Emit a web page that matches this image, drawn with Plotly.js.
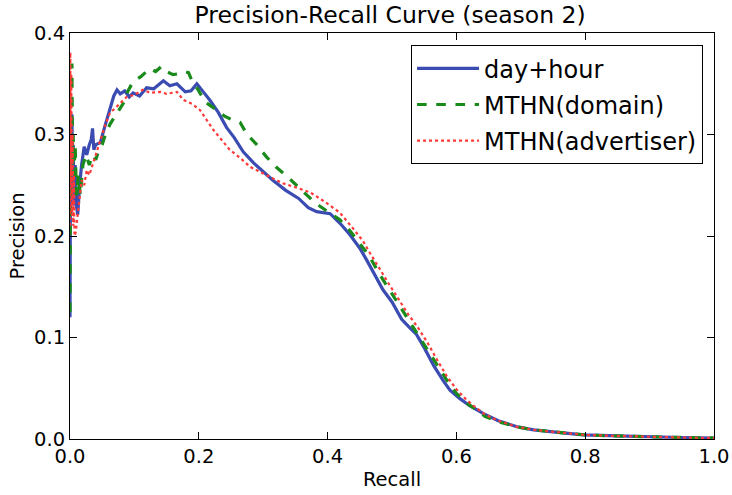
<!DOCTYPE html>
<html><head><meta charset="utf-8">
<script src="https://cdn.plot.ly/plotly-3.0.1.min.js"></script>
<style>body{margin:0;background:#fff}#chart{width:732px;height:495px}</style>
</head><body><div id="chart"></div>
<script>
const seriesNames = ["day+hour", "MTHN(domain)", "MTHN(advertiser)"];

const dayHourRecall = [0,0.001,0.002,0.003,0.004,0.005,0.006,0.008,0.010,0.012,0.015,0.018,0.022,0.026,0.030,0.033,0.035,0.037,0.040,0.047,0.055,0.062,0.068,0.073,0.078,0.085,0.092,0.098,0.108,0.119,0.130,0.145,0.155,0.166,0.179,0.188,0.197,0.207,0.217,0.230,0.243,0.255,0.269,0.285,0.300,0.315,0.335,0.355,0.370,0.383,0.404,0.420,0.435,0.450,0.461,0.475,0.486,0.500,0.515,0.527,0.538,0.550,0.565,0.580,0.590,0.605,0.620,0.642,0.665,0.694,0.72,0.75,0.797,0.85,0.90,0.95,1.0];
const dayHourPrecision = [0.12,0.30,0.24,0.32,0.25,0.29,0.23,0.27,0.23,0.221,0.25,0.27,0.288,0.28,0.29,0.295,0.306,0.285,0.29,0.292,0.31,0.325,0.338,0.344,0.340,0.343,0.337,0.341,0.338,0.346,0.345,0.353,0.348,0.350,0.342,0.343,0.350,0.342,0.334,0.322,0.307,0.297,0.283,0.272,0.263,0.255,0.245,0.237,0.228,0.224,0.222,0.212,0.201,0.188,0.176,0.160,0.147,0.135,0.118,0.110,0.103,0.090,0.072,0.057,0.048,0.040,0.033,0.025,0.018,0.012,0.009,0.007,0.004,0.003,0.002,0.0015,0.001];

const domainRecall = [0,0.001,0.002,0.003,0.004,0.005,0.006,0.008,0.010,0.013,0.016,0.020,0.025,0.030,0.035,0.040,0.045,0.050,0.055,0.062,0.070,0.077,0.083,0.090,0.098,0.110,0.124,0.133,0.142,0.150,0.160,0.170,0.178,0.184,0.190,0.199,0.210,0.228,0.240,0.253,0.264,0.275,0.290,0.305,0.320,0.340,0.357,0.380,0.400,0.419,0.435,0.450,0.465,0.480,0.495,0.510,0.525,0.540,0.555,0.570,0.585,0.600,0.615,0.630,0.645,0.665,0.694,0.72,0.75,0.80,0.85,0.90,0.95,1.0];
const domainPrecision = [0.125,0.31,0.26,0.37,0.27,0.30,0.26,0.29,0.24,0.26,0.24,0.27,0.28,0.27,0.28,0.275,0.285,0.29,0.30,0.31,0.318,0.325,0.331,0.343,0.352,0.357,0.365,0.362,0.367,0.362,0.359,0.360,0.362,0.361,0.352,0.344,0.332,0.324,0.318,0.314,0.312,0.300,0.290,0.278,0.268,0.257,0.247,0.233,0.224,0.216,0.205,0.193,0.180,0.163,0.148,0.133,0.118,0.103,0.088,0.072,0.058,0.045,0.036,0.029,0.022,0.017,0.012,0.009,0.007,0.004,0.003,0.002,0.0015,0.001];

const advertiserRecall = [0,0.0005,0.001,0.002,0.003,0.004,0.005,0.006,0.007,0.009,0.012,0.015,0.018,0.022,0.026,0.030,0.035,0.040,0.045,0.050,0.055,0.062,0.070,0.080,0.088,0.100,0.113,0.125,0.140,0.150,0.166,0.176,0.190,0.202,0.212,0.222,0.235,0.248,0.264,0.280,0.305,0.330,0.350,0.373,0.395,0.419,0.440,0.455,0.466,0.480,0.495,0.510,0.525,0.540,0.555,0.570,0.585,0.600,0.615,0.630,0.645,0.665,0.694,0.72,0.75,0.80,0.85,0.90,0.95,1.0];
const advertiserPrecision = [0.21,0.381,0.25,0.36,0.22,0.30,0.21,0.26,0.20,0.204,0.22,0.24,0.255,0.25,0.265,0.26,0.27,0.28,0.29,0.30,0.31,0.321,0.326,0.332,0.337,0.339,0.344,0.341,0.342,0.340,0.342,0.334,0.330,0.324,0.315,0.305,0.295,0.285,0.277,0.268,0.260,0.252,0.248,0.243,0.234,0.223,0.207,0.195,0.183,0.168,0.153,0.138,0.123,0.110,0.095,0.078,0.062,0.049,0.039,0.031,0.024,0.018,0.012,0.009,0.007,0.004,0.003,0.002,0.0015,0.001];

const xTickVals = [0, 0.2, 0.4, 0.6, 0.8, 1.0];
const xTickText = ["0.0", "0.2", "0.4", "0.6", "0.8", "1.0"];
const yTickVals = [0, 0.1, 0.2, 0.3, 0.4];
const yTickText = ["0.0", "0.1", "0.2", "0.3", "0.4"];

const FONT = "DejaVu Sans, sans-serif";
const traces = [
  {x: dayHourRecall, y: dayHourPrecision, name: seriesNames[0], mode: "lines", legendgroup: "a",
   line: {color: "#3a4cb2", width: 3.2, dash: "solid"}},
  {x: domainRecall, y: domainPrecision, name: seriesNames[1], mode: "lines", legendgroup: "b",
   line: {color: "#1a8a1a", width: 3.2, dash: "dash"}},
  {x: advertiserRecall, y: advertiserPrecision, name: seriesNames[2], mode: "lines", legendgroup: "c",
   line: {color: "#ff3838", width: 2.2, dash: "dot"}}
];
const axisCommon = {
  showline: true, linecolor: "#000", linewidth: 1, mirror: "allticks",
  ticks: "inside", ticklen: 7, tickcolor: "#000", showgrid: false, zeroline: false,
  tickfont: {family: FONT, size: 19.5, color: "#000"}
};
const layout = {
  width: 732, height: 495,
  margin: {l: 70, r: 18, t: 33, b: 56},
  paper_bgcolor: "#fff", plot_bgcolor: "#fff",
  font: {family: FONT, color: "#000"},
  title: {text: "Precision-Recall Curve (season 2)", font: {family: FONT, size: 23.5, color: "#000"},
          x: 0.533, xanchor: "center", y: 0.97, yanchor: "middle"},
  xaxis: Object.assign({}, axisCommon, {range: [0, 1], tickvals: xTickVals, ticktext: xTickText,
          title: {text: "Recall", font: {family: FONT, size: 19.5}, standoff: 4}}),
  yaxis: Object.assign({}, axisCommon, {range: [0, 0.4], tickvals: yTickVals, ticktext: yTickText,
          title: {text: "Precision", font: {family: FONT, size: 19.5}, standoff: 4}}),
  legend: {x: 0.983, xanchor: "right", y: 0.97, yanchor: "top", bgcolor: "#fff",
           bordercolor: "#000", borderwidth: 1, font: {family: FONT, size: 24, color: "#000"},
           itemwidth: 62, tracegroupgap: 2}
};
Plotly.newPlot("chart", traces, layout, {displayModeBar: false, staticPlot: true});
</script></body></html>
